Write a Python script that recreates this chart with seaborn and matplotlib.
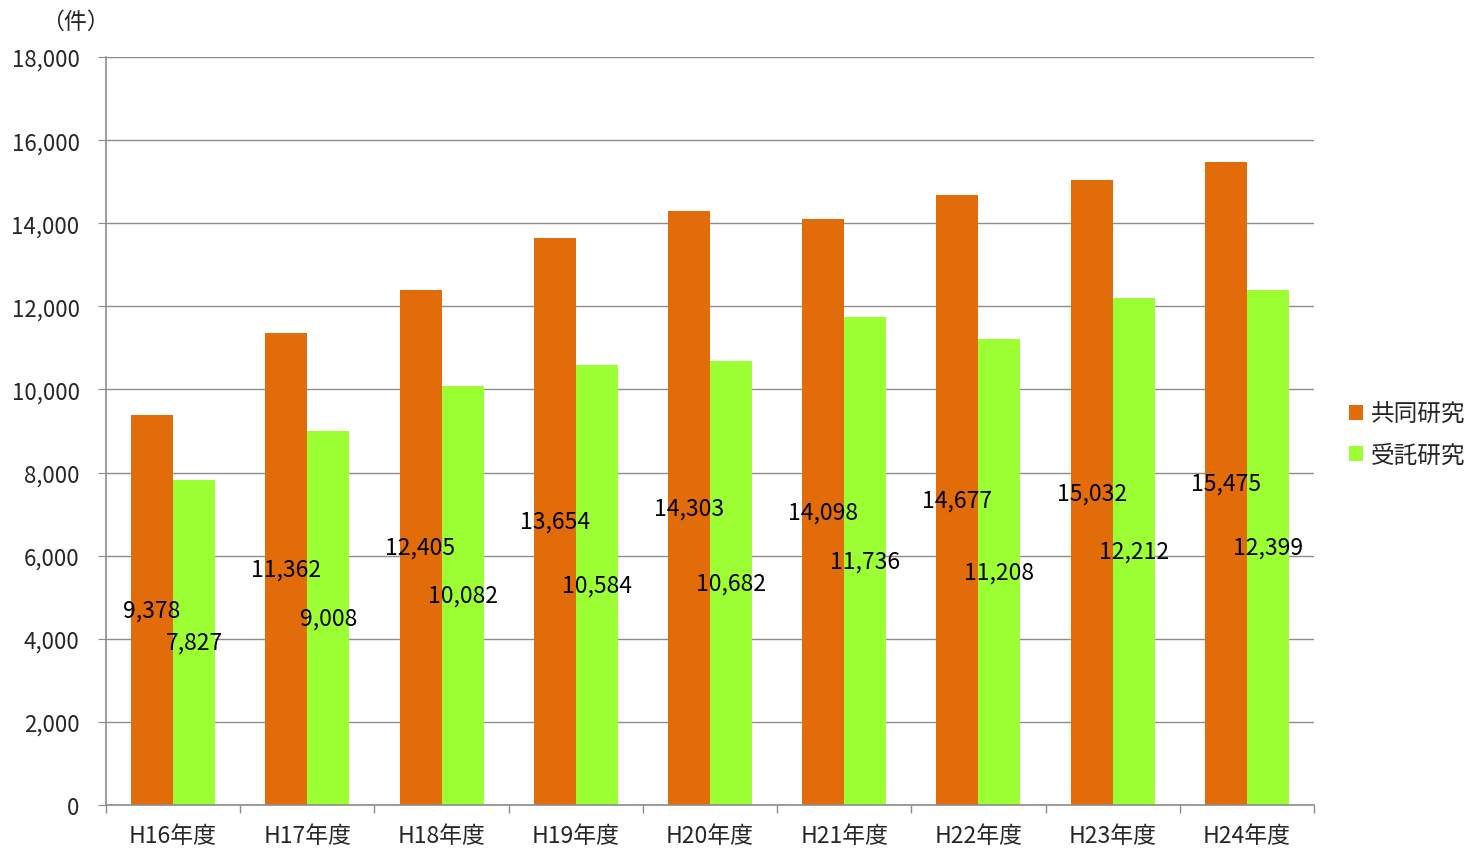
import pandas as pd
import matplotlib
matplotlib.use("Agg")
import matplotlib.pyplot as plt
import seaborn as sns

# data
years = ["H16年度", "H17年度", "H18年度", "H19年度", "H20年度",
         "H21年度", "H22年度", "H23年度", "H24年度"]
joint = [9378, 11362, 12405, 13654, 14303, 14098, 14677, 15032, 15475]
commissioned = [7827, 9008, 10082, 10584, 10682, 11736, 11208, 12212, 12399]
series = ["共同研究", "受託研究"]
colors = ["#E26B0A", "#9BFF33"]

df = pd.DataFrame({
    "year": years * 2,
    "count": joint + commissioned,
    "type": [series[0]] * len(years) + [series[1]] * len(years),
})

sns.set_style("white")
plt.rcParams['font.family'] = ['Noto Sans CJK JP', 'DejaVu Sans']

fig = plt.figure(figsize=(14.82, 8.54), dpi=100)
ax = fig.add_axes([106 / 1482, 48 / 854, 1208 / 1482, 748 / 854])

sns.barplot(data=df, x="year", y="count", hue="type", palette=colors,
            width=0.626, saturation=1, linewidth=0, ax=ax, legend=True)

# value labels in the middle of each bar
for cont in ax.containers:
    ax.bar_label(cont, labels=[f"{v:,.0f}" for v in cont.datavalues],
                 label_type="center", fontsize=16.5, color="black")

ax.set_ylim(0, 18000)
ax.set_xlim(-0.5, len(years) - 0.5)
ax.set_yticks(range(0, 18001, 2000))
ax.set_yticklabels([f"{v:,}" for v in range(0, 18001, 2000)], fontsize=16)
ax.yaxis.grid(True, color="#8c8c8c", linewidth=1)
ax.set_axisbelow(True)
ax.set_xlabel("")
ax.set_ylabel("")
ax.tick_params(axis="x", labelsize=16.5, length=0, pad=14)
ax.tick_params(axis="y", left=True, length=6, color="#8c8c8c", pad=13)

# tick marks on category boundaries
ax.set_xticks([i - 0.5 for i in range(len(years) + 1)], minor=True)
ax.tick_params(axis="x", which="minor", bottom=True, length=6,
               color="#8c8c8c", width=1)

for s in ["top", "right"]:
    ax.spines[s].set_visible(False)
for s in ["left", "bottom"]:
    ax.spines[s].set_color("#8c8c8c")
    ax.spines[s].set_linewidth(1.2)

ax.text(0.003, 1.048, "（件）", transform=ax.transAxes, fontsize=16.5,
        ha="right", va="center")

ax.legend(loc="center left", bbox_to_anchor=(1.021, 0.495), frameon=False,
          fontsize=17, handlelength=0.6, handleheight=0.6,
          labelspacing=0.75, handletextpad=0.35, borderaxespad=0)

fig.savefig("out.png", dpi=100)
